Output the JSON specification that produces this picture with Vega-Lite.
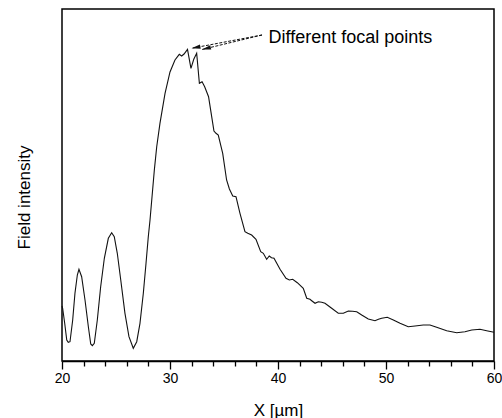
{
  "$schema": "https://vega.github.io/schema/vega-lite/v6.json",
  "width": 432,
  "height": 352,
  "autosize": {"type": "none"},
  "padding": {"left": 62, "top": 9, "right": 8, "bottom": 57},
  "background": "white",
  "config": {
    "view": {"stroke": "black", "strokeWidth": 1.5},
    "font": "Liberation Sans",
    "axis": {"grid": false}
  },
  "resolve": {"axis": {"x": "independent"}},
  "datasets": {
    "curve": [
      {"x": 20.0, "y": 55}, {"x": 20.06, "y": 52.7}, {"x": 20.25, "y": 37.7}, {"x": 20.44, "y": 21}, {"x": 20.58, "y": 18.7}, {"x": 20.74, "y": 19.3},
      {"x": 20.99, "y": 41}, {"x": 21.2, "y": 67.7}, {"x": 21.42, "y": 86}, {"x": 21.57, "y": 91.7}, {"x": 21.82, "y": 84.3},
      {"x": 22.13, "y": 61}, {"x": 22.44, "y": 34.3}, {"x": 22.66, "y": 17}, {"x": 22.81, "y": 15.3}, {"x": 22.99, "y": 17.7},
      {"x": 23.27, "y": 41}, {"x": 23.58, "y": 74.3}, {"x": 23.92, "y": 102.7}, {"x": 24.29, "y": 122.7}, {"x": 24.6, "y": 128.3},
      {"x": 24.84, "y": 124.3}, {"x": 25.12, "y": 107.7}, {"x": 25.44, "y": 81}, {"x": 25.83, "y": 47.7}, {"x": 26.2, "y": 24.3},
      {"x": 26.6, "y": 12.7}, {"x": 26.92, "y": 19.3}, {"x": 27.22, "y": 37.7}, {"x": 27.53, "y": 67.7}, {"x": 27.78, "y": 97.7},
      {"x": 27.99, "y": 124.3}, {"x": 28.15, "y": 141}, {"x": 28.55, "y": 191}, {"x": 28.77, "y": 214.3}, {"x": 29.07, "y": 237.7},
      {"x": 29.54, "y": 267.7}, {"x": 30.0, "y": 289}, {"x": 30.46, "y": 301}, {"x": 30.86, "y": 306.7}, {"x": 31.08, "y": 305},
      {"x": 31.3, "y": 307}, {"x": 31.62, "y": 311.7}, {"x": 31.94, "y": 292.7}, {"x": 32.2, "y": 301.7}, {"x": 32.47, "y": 307.7},
      {"x": 32.72, "y": 277.7}, {"x": 32.97, "y": 279.3}, {"x": 33.21, "y": 274.3}, {"x": 33.57, "y": 264.3}, {"x": 33.86, "y": 244.3},
      {"x": 34.07, "y": 230}, {"x": 34.26, "y": 227.7}, {"x": 34.47, "y": 226}, {"x": 34.88, "y": 207.7}, {"x": 35.24, "y": 181},
      {"x": 35.5, "y": 172}, {"x": 35.81, "y": 165}, {"x": 36.11, "y": 164.3}, {"x": 36.48, "y": 147.7}, {"x": 36.94, "y": 129.3},
      {"x": 37.2, "y": 127.7}, {"x": 37.56, "y": 126}, {"x": 37.96, "y": 121.7}, {"x": 38.4, "y": 109.3}, {"x": 38.64, "y": 107.7},
      {"x": 38.95, "y": 101.7}, {"x": 39.19, "y": 105}, {"x": 39.4, "y": 103.3}, {"x": 39.63, "y": 102.7}, {"x": 40.19, "y": 91.7},
      {"x": 40.74, "y": 82.7}, {"x": 41.05, "y": 81}, {"x": 41.36, "y": 81.7}, {"x": 41.79, "y": 78.3}, {"x": 42.34, "y": 72.7},
      {"x": 42.66, "y": 62.7}, {"x": 42.96, "y": 61.7}, {"x": 43.12, "y": 60.3}, {"x": 43.43, "y": 57.7}, {"x": 43.73, "y": 59.3},
      {"x": 44.05, "y": 58.7}, {"x": 44.35, "y": 57.7}, {"x": 44.97, "y": 52.7}, {"x": 45.58, "y": 47.7}, {"x": 46.05, "y": 47.7},
      {"x": 46.51, "y": 50}, {"x": 46.9, "y": 49.7}, {"x": 47.29, "y": 49.3}, {"x": 47.75, "y": 46}, {"x": 48.36, "y": 42},
      {"x": 48.98, "y": 40.3}, {"x": 49.3, "y": 41.7}, {"x": 49.6, "y": 42.7}, {"x": 50.12, "y": 43.7}, {"x": 50.68, "y": 41},
      {"x": 51.3, "y": 37.7}, {"x": 52.06, "y": 34.3}, {"x": 52.69, "y": 35}, {"x": 53.45, "y": 36}, {"x": 54.07, "y": 36},
      {"x": 54.69, "y": 33.7}, {"x": 55.62, "y": 30.3}, {"x": 56.55, "y": 28.3}, {"x": 57.31, "y": 29.3}, {"x": 57.94, "y": 31},
      {"x": 58.7, "y": 31.7}, {"x": 59.32, "y": 30.3}, {"x": 60.0, "y": 28.7}
    ],
    "arrows": [
      {"x": 38.52, "y": 326, "x2": 31.99, "y2": 312.7, "angle": 349.3},
      {"x": 38.52, "y": 326, "x2": 32.96, "y2": 311.5, "angle": 346.4}
    ],
    "label": [
      {"x": 39.12, "y": 318.3, "text": "Different focal points"}
    ]
  },
  "layer": [
    {
      "data": {"name": "curve"},
      "mark": {"type": "line", "color": "#111111", "strokeWidth": 1.1},
      "encoding": {
        "x": {
          "field": "x", "type": "quantitative",
          "scale": {"domain": [20, 60], "nice": false, "zero": false},
          "axis": {
            "orient": "bottom",
            "values": [20, 30, 40, 50, 60],
            "tickSize": 8, "tickColor": "#000000", "tickWidth": 1.3,
            "domainColor": "#000000", "domainWidth": 1.5,
            "labelFlush": false,
            "labelFontSize": 14, "labelColor": "black", "labelPadding": 2,
            "title": "X [\u00b5m]",
            "titleFontSize": 17, "titleFontWeight": "normal", "titleColor": "black",
            "titleBaseline": "alphabetic", "titleY": 54, "titleX": 216
          }
        },
        "y": {
          "field": "y", "type": "quantitative",
          "scale": {"domain": [0, 352], "nice": false, "zero": false},
          "axis": {
            "labels": false, "ticks": false, "domain": false,
            "title": "Field intensity",
            "titleFontSize": 17, "titleFontWeight": "normal", "titleColor": "black",
            "titleAngle": 270, "titleBaseline": "middle", "titleAlign": "center",
            "titleX": -38, "titleY": 188
          }
        }
      }
    },
    {
      "data": {"name": "arrows"},
      "mark": {"type": "rule", "color": "#111111", "strokeWidth": 1, "strokeDash": [3, 1.5]},
      "encoding": {
        "x": {
          "field": "x", "type": "quantitative",
          "axis": {
            "orient": "bottom",
            "values": [22, 24, 26, 28, 32, 34, 36, 38, 42, 44, 46, 48, 52, 54, 56, 58],
            "tickSize": 5, "tickColor": "#000000", "tickWidth": 1.3,
            "labels": false, "domain": false, "title": null
          }
        },
        "y": {"field": "y", "type": "quantitative"},
        "x2": {"field": "x2"},
        "y2": {"field": "y2"}
      }
    },
    {
      "data": {"name": "arrows"},
      "mark": {"type": "point", "shape": "M0,0L2,-0.5L2,0.5Z", "filled": true, "color": "#111111", "opacity": 1, "size": 81},
      "encoding": {
        "x": {"field": "x2", "type": "quantitative", "axis": null},
        "y": {"field": "y2", "type": "quantitative"},
        "angle": {"field": "angle", "type": "quantitative", "scale": null}
      }
    },
    {
      "data": {"name": "label"},
      "mark": {"type": "text", "align": "left", "baseline": "alphabetic", "fontSize": 18, "color": "black"},
      "encoding": {
        "x": {"field": "x", "type": "quantitative", "axis": null},
        "y": {"field": "y", "type": "quantitative"},
        "text": {"field": "text"}
      }
    }
  ]
}
